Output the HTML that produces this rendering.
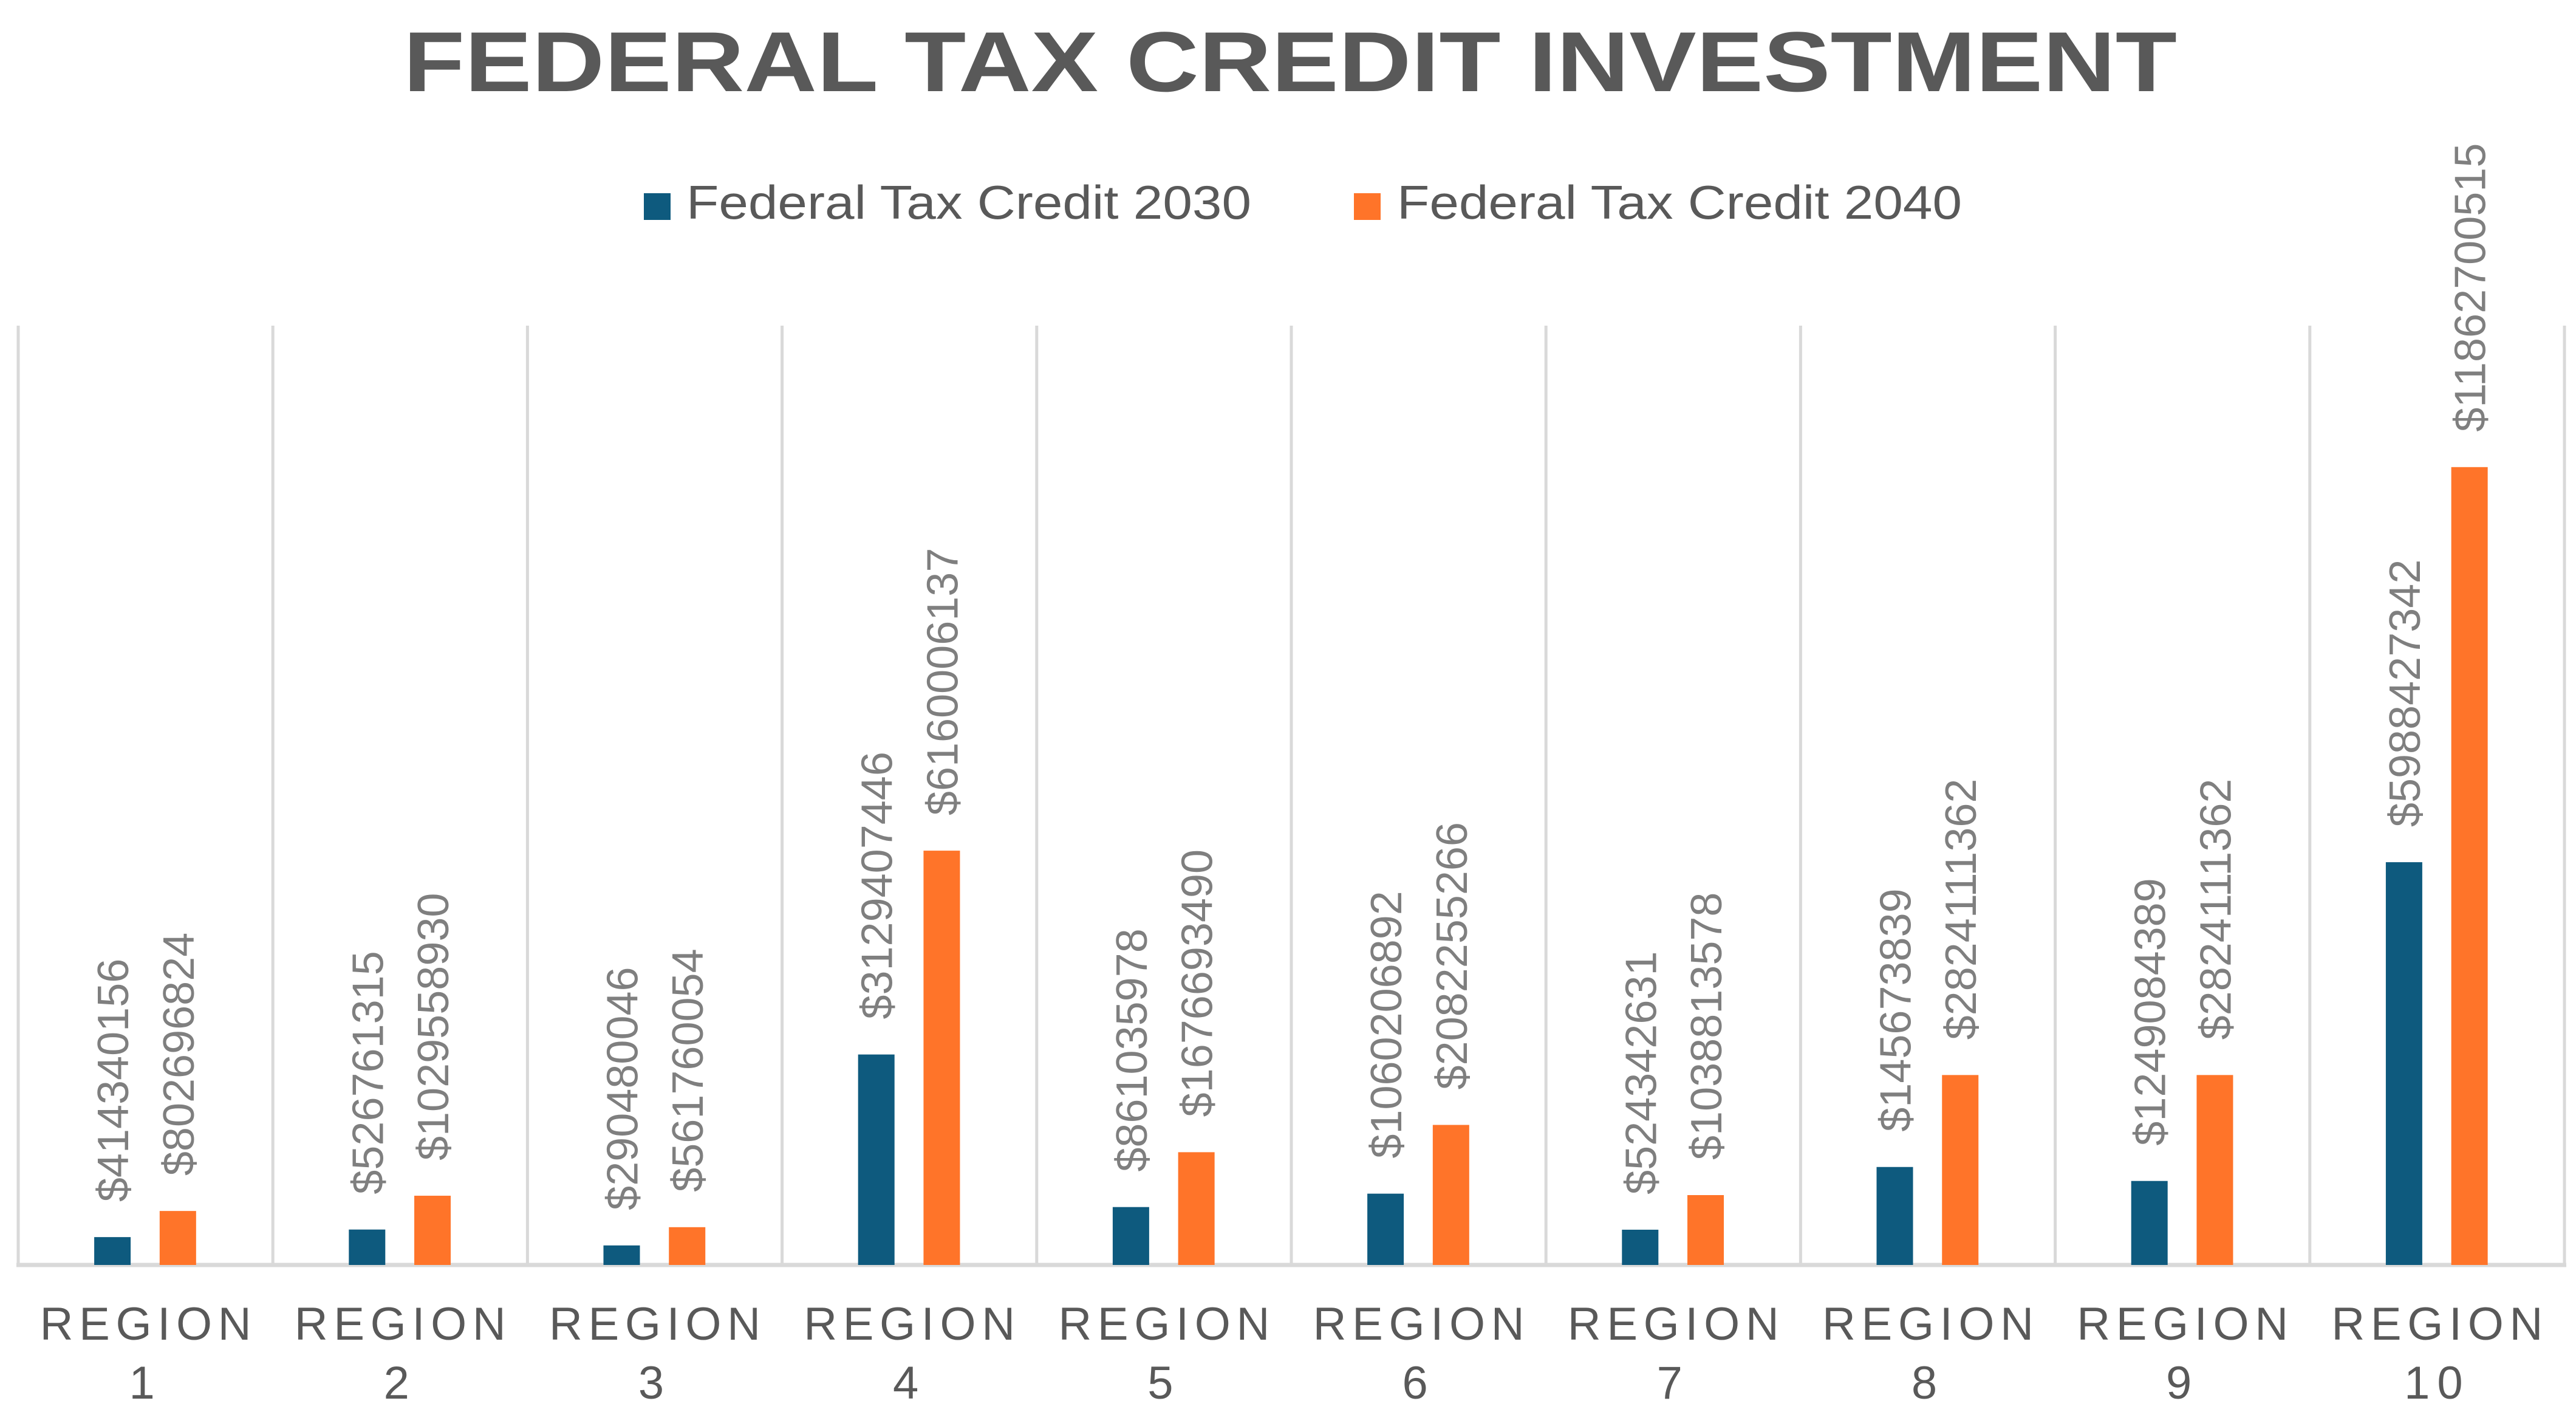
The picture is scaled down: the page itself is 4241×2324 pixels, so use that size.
<!DOCTYPE html>
<html><head><meta charset="utf-8"><style>
html,body{margin:0;padding:0;background:#fff;}
svg{display:block;}
</style></head><body>
<svg id="chart" width="4241" height="2324" viewBox="0 0 4241 2324" xmlns="http://www.w3.org/2000/svg">
<rect width="4241" height="2324" fill="#fff"/>
<text x="2124" y="150" text-anchor="middle" font-family="Liberation Sans, sans-serif" font-weight="bold" font-size="140" fill="#595959" textLength="2920" lengthAdjust="spacingAndGlyphs">FEDERAL TAX CREDIT INVESTMENT</text>
<g>
<rect x="1060" y="318" width="44" height="44" fill="#0E5A7E"/>
<text x="1130" y="360" font-family="Liberation Sans, sans-serif" font-size="78" fill="#595959" textLength="930" lengthAdjust="spacingAndGlyphs">Federal Tax Credit 2030</text>
<rect x="2229" y="318" width="44" height="44" fill="#FF7429"/>
<text x="2300" y="360" font-family="Liberation Sans, sans-serif" font-size="78" fill="#595959" textLength="930" lengthAdjust="spacingAndGlyphs">Federal Tax Credit 2040</text>
</g>
<g id="plot"></g>
</svg>
<script>
const categories = ["1","2","3","4","5","6","7","8","9","10"];
const values2030 = [414340156, 526761315, 290480046, 3129407446, 861035978, 1060206892, 524342631, 1456738390, 1249084389, 5988427342];
const values2040 = [802696824, 1029558930, 561760054, 6160006137, 1676693490, 2082255266, 1038813578, 2824111362, 2824111362, 11862700515];
const labels2030 = ["$414340156","$526761315","$290480046","$3129407446","$861035978","$1060206892","$524342631","$145673839","$1249084389","$5988427342"];
const labels2040 = ["$802696824","$1029558930","$561760054","$6160006137","$1676693490","$2082255266","$1038813578","$2824111362","$2824111362","$11862700515"];

const NS = "http://www.w3.org/2000/svg";
const plotG = document.getElementById('plot');
const plotLeft = 30, plotRight = 4222, plotBase = 2082, plotTop = 536;
const catW = (plotRight - plotLeft) / categories.length;
const pxPerUnit = 110.7 / 1e9;
const barW = 60;
function xCat(i){ return plotLeft + i * catW; }
function yVal(v){ return plotBase - v * pxPerUnit; }
function mk(tag, attrs){ const e = document.createElementNS(NS, tag); for (const k in attrs) e.setAttribute(k, attrs[k]); plotG.appendChild(e); return e; }

for (let i = 0; i <= categories.length; i++) {
  const g = mk('line', {x1: xCat(i), x2: xCat(i), y1: plotTop, y2: plotBase, stroke: '#d9d9d9', 'stroke-width': 5});
  
  
}
const ax = mk('line', {x1: plotLeft - 3, x2: plotRight + 3, y1: plotBase, y2: plotBase, stroke: '#d9d9d9', 'stroke-width': 7});



function drawSeries(vals, labs, frac, color, nm){
  vals.forEach((v, i) => {
    const cx = xCat(i) + catW * frac;
    const y = yVal(v);
    const r = mk('rect', {x: cx - barW/2, y: y, width: barW, height: plotBase - y, fill: color});
    
    
    const t = mk('text', {x: 0, y: 0, transform: 'translate(' + (cx + 26) + ',' + (y - 58) + ') rotate(-90)', 'font-family': 'Liberation Sans, sans-serif', 'font-size': 72, fill: '#7f7f7f'});
    t.textContent = labs[i];
    
    
  });
}
drawSeries(values2030, labels2030, 0.37, '#0E5A7E', '2030');
drawSeries(values2040, labels2040, 0.627, '#FF7429', '2040');

categories.forEach((c, i) => {
  const cx = xCat(i) + catW / 2;
  const t1 = mk('text', {x: cx, y: 2205, 'text-anchor': 'middle', 'font-family': 'Liberation Sans, sans-serif', 'font-size': 76, fill: '#595959', textLength: 348, lengthAdjust: 'spacing'});
  t1.textContent = 'REGION';
  
  
  const t2 = mk('text', {x: cx, y: 2302, 'text-anchor': 'middle', 'font-family': 'Liberation Sans, sans-serif', 'font-size': 76, fill: '#595959', 'letter-spacing': 12});
  t2.textContent = c;
  
  
});
</script>
</body></html>
